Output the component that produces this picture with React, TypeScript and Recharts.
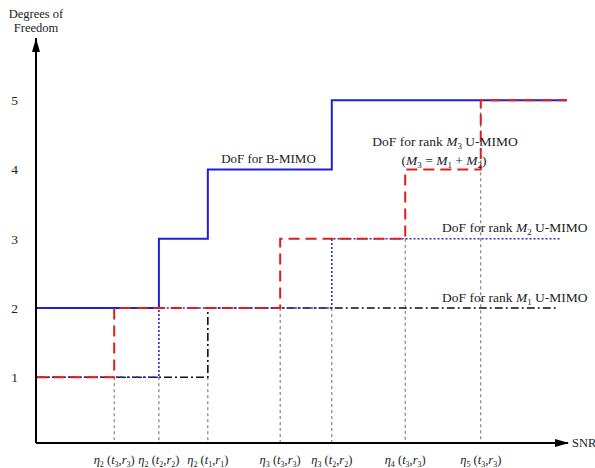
import React from 'react';
import { LineChart, Line, XAxis, YAxis, ReferenceLine, ReferenceDot } from 'recharts';

// Breakpoint positions along SNR axis (arbitrary units, 0..100)
const breakpoints = [14.7, 23.1, 32.3, 45.9, 55.6, 69.4, 83.6];
const tickEta = ['2', '2', '2', '3', '3', '4', '5'];
const tickT = ['3', '2', '1', '3', '2', '3', '3'];
const tickR = ['3', '2', '1', '3', '2', '3', '3'];
const guideTop = [1, 1, 1, 2, 2, 3, 5];

const yTicks = [1, 2, 3, 4, 5];

const bMimoX = [0, 23.1, 32.3, 55.6, 99.8];
const bMimoY = [2, 3, 4, 5, 5];
const m3X = [0, 14.7, 45.9, 69.4, 83.6, 99.8];
const m3Y = [1, 2, 3, 4, 5, 5];
const m2X = [0, 23.1, 55.6, 98.5];
const m2Y = [1, 2, 3, 3];
const m1X = [0, 32.3, 98.1];
const m1Y = [1, 2, 2];

const zip = (xs: number[], ys: number[]) => xs.map((x, i) => ({ x, y: ys[i] }));
const bMimo = zip(bMimoX, bMimoY);
const m3 = zip(m3X, m3Y);
const m2 = zip(m2X, m2Y);
const m1 = zip(m1X, m1Y);

const FONT = "'Liberation Serif', 'Times New Roman', 'DejaVu Serif', serif";
const Y_MIN = 0.05;
const Y_MAX = 5.9;
const X_MAX = 100;
const TXT = { fontFamily: FONT, fill: '#222' };

const XTick = (props: any) => {
  const { x, y, payload } = props;
  const i = breakpoints.indexOf(payload.value);
  if (i < 0) return null;
  return (
    <text x={x} y={y + 13} textAnchor="middle" style={{ ...TXT, fontSize: 12.5 }}>
      <tspan fontStyle="italic">η</tspan>
      <tspan fontSize={8} dy={3}>{tickEta[i]}</tspan>
      <tspan dy={-3}>{' ('}</tspan>
      <tspan fontStyle="italic">t</tspan>
      <tspan fontSize={8} dy={3}>{tickT[i]}</tspan>
      <tspan dy={-3}>{','}</tspan>
      <tspan fontStyle="italic">r</tspan>
      <tspan fontSize={8} dy={3}>{tickR[i]}</tspan>
      <tspan dy={-3}>)</tspan>
    </text>
  );
};

const XArrow = (props: any) => {
  const { cx, cy } = props;
  return (
    <g>
      <polygon points={`${cx + 1},${cy} ${cx - 13},${cy - 4} ${cx - 13},${cy + 4}`} fill="#000" />
      <text x={cx + 4} y={cy + 4} style={{ ...TXT, fontSize: 12.5 }}>SNR</text>
    </g>
  );
};

const YArrow = (props: any) => {
  const { cx, cy } = props;
  return (
    <g>
      <polygon points={`${cx},${cy} ${cx - 4},${cy + 14} ${cx + 4},${cy + 14}`} fill="#000" />
      <text x={cx} y={cy - 20} textAnchor="middle" style={{ ...TXT, fontSize: 12.5 }}>Degrees of</text>
      <text x={cx} y={cy - 6} textAnchor="middle" style={{ ...TXT, fontSize: 12.5 }}>Freedom</text>
    </g>
  );
};

const LabelB = (props: any) => (
  <text x={props.cx} y={props.cy} textAnchor="middle" style={{ ...TXT, fontSize: 13 }}>DoF for B-MIMO</text>
);

const LabelRank = (rank: string) => (props: any) => (
  <text x={props.cx} y={props.cy} textAnchor="middle" style={{ ...TXT, fontSize: 13.5 }}>
    <tspan>DoF for rank </tspan>
    <tspan fontStyle="italic">M</tspan>
    <tspan fontSize={9} dy={3}>{rank}</tspan>
    <tspan dy={-3}> U-MIMO</tspan>
  </text>
);

const LabelM3Eq = (props: any) => (
  <text x={props.cx} y={props.cy} textAnchor="middle" style={{ ...TXT, fontSize: 13.5 }}>
    <tspan>(</tspan>
    <tspan fontStyle="italic">M</tspan>
    <tspan fontSize={9} dy={3}>3</tspan>
    <tspan dy={-3}> = </tspan>
    <tspan fontStyle="italic">M</tspan>
    <tspan fontSize={9} dy={3}>1</tspan>
    <tspan dy={-3}> + </tspan>
    <tspan fontStyle="italic">M</tspan>
    <tspan fontSize={9} dy={3}>2</tspan>
    <tspan dy={-3}>)</tspan>
  </text>
);

export default function App() {
  return (
    <div style={{ position: 'absolute', left: 0, top: 0, width: 595, height: 468, background: '#fff' }}>
      <LineChart width={595} height={468} margin={{ top: 38, right: 27, bottom: 0, left: 0 }}>
        <XAxis
          type="number"
          dataKey="x"
          domain={[0, X_MAX]}
          ticks={breakpoints}
          tick={<XTick />}
          tickLine={false}
          axisLine={{ stroke: '#000', strokeWidth: 2 }}
          height={25}
          interval={0}
          allowDataOverflow
        />
        <YAxis
          type="number"
          dataKey="y"
          domain={[Y_MIN, Y_MAX]}
          ticks={yTicks}
          tickLine={false}
          tickMargin={12}
          width={36}
          tick={{ fontFamily: FONT, fontSize: 13.5, fill: '#222' }}
          axisLine={{ stroke: '#000', strokeWidth: 2 }}
          allowDataOverflow
        />
        {breakpoints.map((bx, i) => (
          <ReferenceLine
            key={'g' + i}
            segment={[{ x: bx, y: guideTop[i] }, { x: bx, y: Y_MIN }]}
            stroke="#444"
            strokeWidth={0.8}
            strokeDasharray="3 3"
          />
        ))}
        <Line data={bMimo} dataKey="y" type="stepAfter" stroke="#1f1fd6" strokeWidth={2} dot={false} isAnimationActive={false} />
        <Line data={m1} dataKey="y" type="stepAfter" stroke="#111" strokeWidth={1.6} strokeDasharray="8 3 2 3" dot={false} isAnimationActive={false} />
        <Line data={m2} dataKey="y" type="stepAfter" stroke="#2a2ac8" strokeWidth={1.6} strokeDasharray="2 2" dot={false} isAnimationActive={false} />
        <Line data={m3} dataKey="y" type="stepAfter" stroke="#e21c1c" strokeWidth={2} strokeDasharray="11 6" dot={false} isAnimationActive={false} />
        <ReferenceDot x={X_MAX} y={Y_MIN} r={0} shape={<XArrow />} ifOverflow="visible" />
        <ReferenceDot x={0} y={Y_MAX} r={0} shape={<YArrow />} ifOverflow="visible" />
        <ReferenceDot x={43.7} y={4.1} r={0} shape={<LabelB />} ifOverflow="visible" />
        <ReferenceDot x={76.9} y={4.34} r={0} shape={LabelRank('3')} ifOverflow="visible" />
        <ReferenceDot x={76.7} y={4.07} r={0} shape={<LabelM3Eq />} ifOverflow="visible" />
        <ReferenceDot x={90.0} y={3.1} r={0} shape={LabelRank('2')} ifOverflow="visible" />
        <ReferenceDot x={90.0} y={2.09} r={0} shape={LabelRank('1')} ifOverflow="visible" />
      </LineChart>
    </div>
  );
}
